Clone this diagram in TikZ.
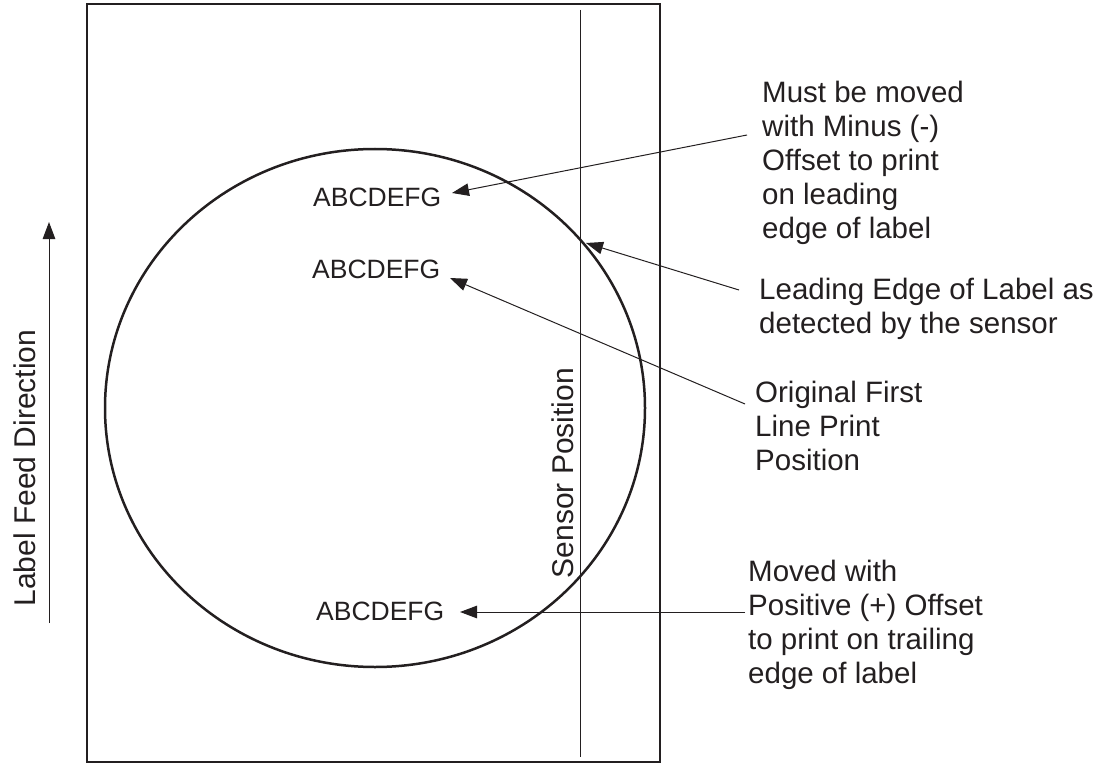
\documentclass[tikz,border=0pt]{standalone}
\usepackage{fontspec}
\setmainfont{Liberation Sans}
\usetikzlibrary{arrows.meta}
\definecolor{ink}{RGB}{35,31,32}
\begin{document}
\begin{tikzpicture}[x=1pt,y=-1pt,
  lbl/.style={font=\fontsize{29.5}{34}\selectfont, align=left, inner sep=0pt, text=ink, anchor=base west},
  rlbl/.style={font=\fontsize{30}{34}\selectfont, inner sep=0pt, text=ink, rotate=90, anchor=base},
  abc/.style={font=\fontsize{26.5}{30}\selectfont, inner sep=0pt, text=ink, anchor=base west},
  arr/.style={draw=ink, line width=1pt, -{Triangle[length=17pt,width=12.5pt]}},
  frame/.style={draw=ink, line width=2.5pt},
]
\useasboundingbox (0,0) rectangle (1109,765);
% label outline, circle and sensor line
\draw[frame] (87,4) rectangle (660,762);
\draw[frame] (375,408) ellipse [x radius=270, y radius=259];
\coordinate (sensTop) at (580.5,10);
\coordinate (sensBot) at (580.5,757);
\draw[draw=ink, line width=1.3pt] (sensTop) -- (sensBot);

% print samples
\node[abc] (abc1) at (313,207) {ABCDEFG};
\node[abc] (abc2) at (312,278) {ABCDEFG};
\node[abc] (abc3) at (316,620) {ABCDEFG};

% explanatory texts (anchored at the baseline of their last line)
\node[lbl] (must) at (762,238) {Must be moved\\with Minus (-)\\Offset to print\\on leading\\edge of label};
\node[lbl] (lead) at (759,333) {Leading Edge of Label as\\detected by the sensor};
\node[lbl] (orig) at (755,470) {Original First\\Line Print\\Position};
\node[lbl] (moved) at (748,683) {Moved with\\Positive (+) Offset\\to print on trailing\\edge of label};

% rotated texts
\node[rlbl] (feed) at (35,468) {Label Feed Direction};
\node[rlbl] (sensor) at (573,473) {Sensor Position};

% connector ends
\coordinate (mustT) at (747,135);
\coordinate (abc1T) at (452,193);
\coordinate (leadT) at (739,290);
\coordinate (edgeT) at (586,243);
\coordinate (origT) at (745,404);
\coordinate (abc2T) at (450,278);
\coordinate (movedT) at (745,612);
\coordinate (abc3T) at (460,612);
\coordinate (feedS) at (49,623);
\coordinate (feedE) at (49,222);

\draw[arr] (mustT) -- (abc1T);
\draw[arr] (leadT) -- (edgeT);
\draw[arr] (origT) -- (abc2T);
\draw[arr] (movedT) -- (abc3T);
\draw[arr] (feedS) -- (feedE);
\end{tikzpicture}
\end{document}
